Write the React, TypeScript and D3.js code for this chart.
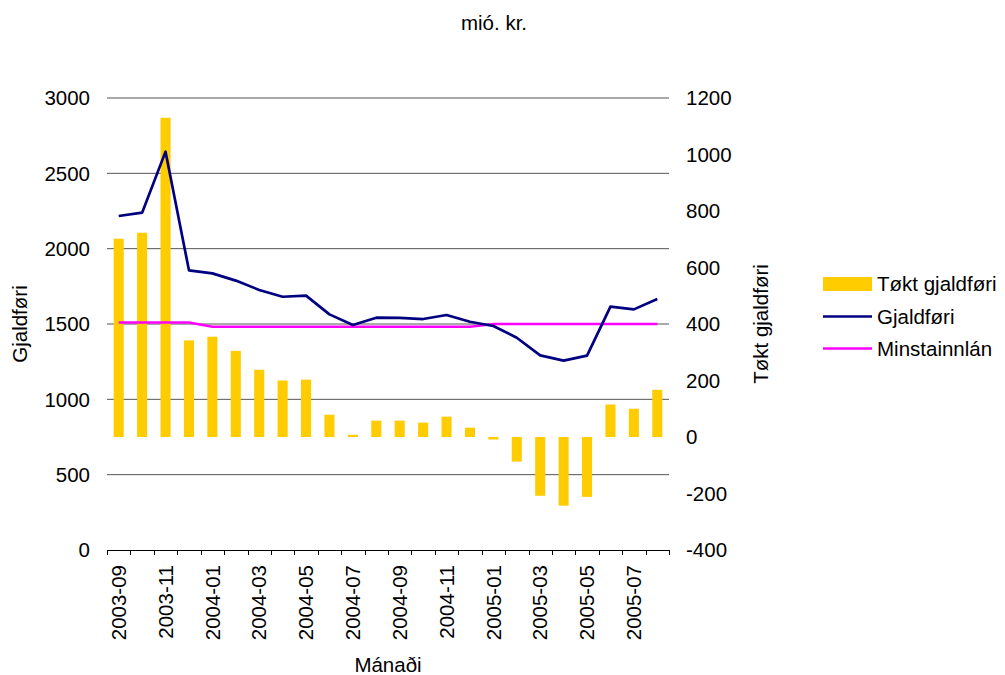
import React from 'react';
import * as d3 from 'd3';

// months on the category axis
const months = [
  '2003-09', '2003-10', '2003-11', '2003-12',
  '2004-01', '2004-02', '2004-03', '2004-04', '2004-05', '2004-06',
  '2004-07', '2004-08', '2004-09', '2004-10', '2004-11', '2004-12',
  '2005-01', '2005-02', '2005-03', '2005-04', '2005-05', '2005-06',
  '2005-07', '2005-08'
];

// Tøkt gjaldføri (right axis, bars)
const toktGjaldfori = [
  702, 723, 1130, 342, 355, 305, 238, 200, 203, 79, 8, 58,
  58, 51, 72, 33, -9, -87, -208, -243, -212, 115, 100, 167
];

// Gjaldføri (left axis, line)
const gjaldfori = [
  2217, 2239, 2644, 1856, 1836, 1788, 1726, 1681, 1688, 1564, 1493, 1542,
  1540, 1533, 1560, 1515, 1487, 1409, 1292, 1257, 1290, 1615, 1597, 1666
];

// Minstainnlán (left axis, line)
const minstainnlan = [
  1510, 1510, 1510, 1510, 1482, 1482, 1482, 1482, 1482, 1482, 1482, 1482,
  1482, 1482, 1482, 1482, 1500, 1500, 1500, 1500, 1500, 1500, 1500, 1500
];

const leftTicks = [0, 500, 1000, 1500, 2000, 2500, 3000];
const rightTicks = [-400, -200, 0, 200, 400, 600, 800, 1000, 1200];

const FONT = '"Liberation Sans", Arial, sans-serif';

const App: React.FC = () => {
  const width = 1005;
  const height = 675;
  const left = 107;
  const right = 669;
  const top = 98;
  const bottom = 550;

  const x = d3.scaleBand<string>()
    .domain(months)
    .range([left, right])
    .paddingInner(0.57)
    .paddingOuter(0.285);

  const band = d3.scaleBand<string>().domain(months).range([left, right]);
  const cx = (m: string) => (band(m) || 0) + band.bandwidth() / 2;

  const yL = d3.scaleLinear().domain([0, 3000]).range([bottom, top]);
  const yR = d3.scaleLinear().domain([-400, 1200]).range([bottom, top]);

  const line = d3.line<number>()
    .x((_, i) => cx(months[i]))
    .y(d => yL(d));

  const boundaries = d3.range(months.length + 1).map(i => left + i * band.step());

  return (
    <svg width={width} height={height} style={{ position: 'absolute', left: 0, top: 0 }}
      fontFamily={FONT}>
      <rect width={width} height={height} fill="#ffffff" />

      <text x={494} y={30} fontSize={20.5} textAnchor="middle">mió. kr.</text>

      {/* gridlines from the left axis */}
      {leftTicks.filter(t => t > 0).map(t => (
        <line key={t} x1={left} x2={right} y1={yL(t)} y2={yL(t)} stroke="#555555" strokeWidth={1} />
      ))}

      {/* bars */}
      {toktGjaldfori.map((v, i) => (
        <rect key={months[i]}
          x={x(months[i])}
          width={x.bandwidth()}
          y={Math.min(yR(0), yR(v))}
          height={Math.abs(yR(v) - yR(0))}
          fill="#FFCC00" />
      ))}

      <path d={line(minstainnlan) || ''} fill="none" stroke="#FF00FF" strokeWidth={2.6} />
      <path d={line(gjaldfori) || ''} fill="none" stroke="#000080" strokeWidth={2.7}
        strokeLinejoin="round" />

      {/* category axis */}
      <line x1={left} x2={right} y1={bottom + 0.5} y2={bottom + 0.5} stroke="#000" />
      {boundaries.map((b, i) => (
        <line key={i} x1={Math.round(b) + 0.5} x2={Math.round(b) + 0.5} y1={bottom} y2={bottom + 5} stroke="#000" />
      ))}
      {months.map((m, i) => i % 2 === 0 ? (
        <text key={m} transform={`translate(${cx(m)},565) rotate(-90)`}
          fontSize={20.5} textAnchor="end" dy="0.35em">{m}</text>
      ) : null)}

      {/* left tick labels */}
      {leftTicks.map(t => (
        <text key={t} x={90} y={yL(t)} dy="0.35em" fontSize={20.5} textAnchor="end">{t}</text>
      ))}
      {/* right tick labels */}
      {rightTicks.map(t => (
        <text key={t} x={686} y={yR(t)} dy="0.35em" fontSize={20.5} textAnchor="start">{t}</text>
      ))}

      <text transform={`translate(20,${(top + bottom) / 2}) rotate(-90)`} fontSize={20.5}
        textAnchor="middle" dy="0.35em">Gjaldføri</text>
      <text transform={`translate(761,${(top + bottom) / 2}) rotate(-90)`} fontSize={20.5}
        textAnchor="middle" dy="0.35em">Tøkt gjaldføri</text>
      <text x={(left + right) / 2} y={672} fontSize={20.5} textAnchor="middle">Mánaði</text>

      {/* legend */}
      <rect x={823} y={277} width={49} height={14} fill="#FFCC00" />
      <text x={877} y={284} dy="0.35em" fontSize={20.5}>Tøkt gjaldføri</text>
      <line x1={823} x2={872} y1={316.5} y2={316.5} stroke="#000080" strokeWidth={2.7} />
      <text x={877} y={317} dy="0.35em" fontSize={20.5}>Gjaldføri</text>
      <line x1={823} x2={872} y1={348.5} y2={348.5} stroke="#FF00FF" strokeWidth={2.6} />
      <text x={877} y={349} dy="0.35em" fontSize={20.5}>Minstainnlán</text>
    </svg>
  );
};

export default App;
